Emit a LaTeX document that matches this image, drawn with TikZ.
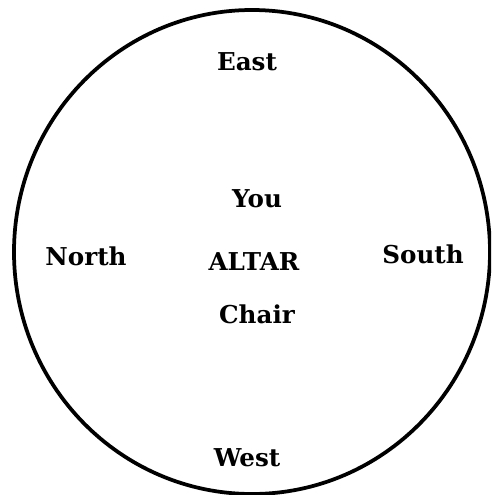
\documentclass[tikz,border=0pt]{standalone}
\usepackage{fontspec}
\setmainfont{DejaVu Serif}
\usepackage{tikz}

\begin{document}
\begin{tikzpicture}[
  x=0.03cm, y=-0.03cm,
  every node/.style={font=\fontsize{21}{25}\selectfont\bfseries, inner sep=0pt, anchor=base},
  ring/.style={line width=3.2pt}
]
  \useasboundingbox (0,0) rectangle (491,495);
  \begin{scope}
    \clip (0,0) rectangle (491,495);
    \draw[ring] (252,252) ellipse [x radius=238, y radius=242];
  \end{scope}

  % quarters
  \node (east) at (247,70) {East};
  \node (north) at (86,265) {North};
  \node (south) at (423,263) {South};
  \node (west) at (247,466) {West};

  % middle
  \node (you) at (257,207) {You};
  \node (altar) at (254,270) {ALTAR};
  \node (chair) at (257,323) {Chair};
\end{tikzpicture}
\end{document}
